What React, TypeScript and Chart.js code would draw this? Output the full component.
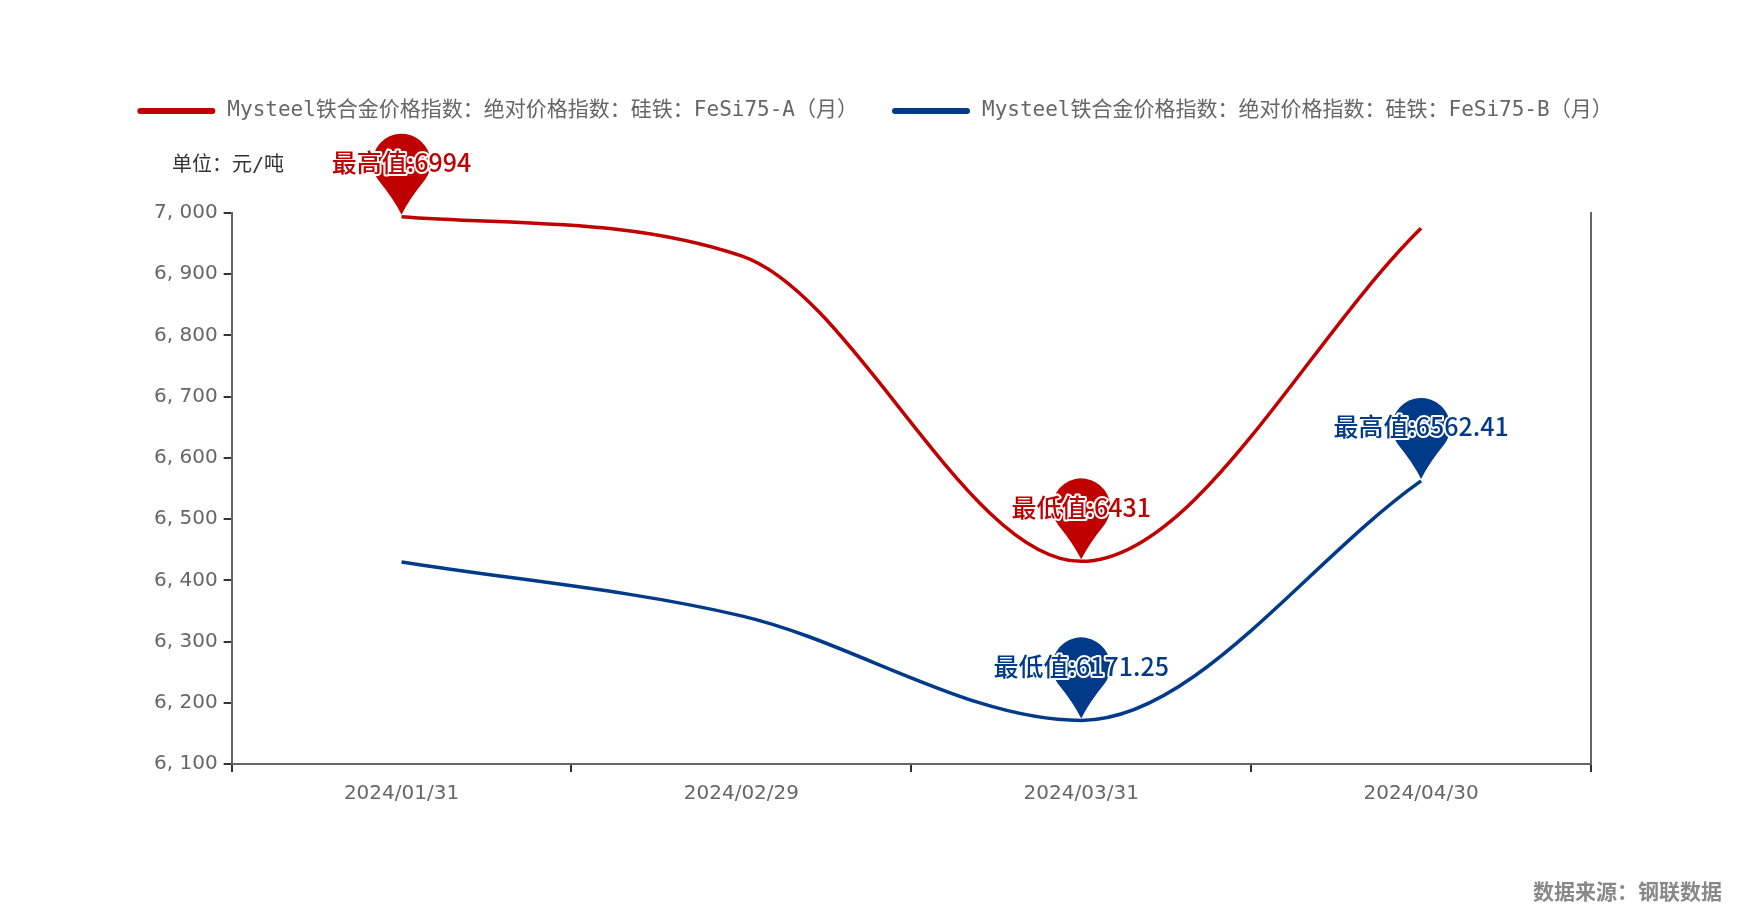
import React, { useEffect, useRef } from "react";
import { Chart, registerables } from "chart.js";
Chart.register(...registerables);

const categories = ["2024/01/31", "2024/02/29", "2024/03/31", "2024/04/30"];
const seriesA = [6994, 6930, 6431, 6975];
const seriesB = [6430, 6342, 6171.25, 6562.41];
const nameA = "Mysteel铁合金价格指数：绝对价格指数：硅铁：FeSi75-A（月）";
const nameB = "Mysteel铁合金价格指数：绝对价格指数：硅铁：FeSi75-B（月）";
const colorA = "#c00000";
const colorB = "#023a8a";
const marksA = [{ i: 0, label: "最高值:6994" }, { i: 2, label: "最低值:6431" }];
const marksB = [{ i: 2, label: "最低值:6171.25" }, { i: 3, label: "最高值:6562.41" }];

const mono = '"DejaVu Sans Mono", "Noto Sans CJK SC", monospace';

const overlay = {
  id: "overlay",
  afterDraw(chart: any) {
    const ctx = chart.ctx;
    ctx.save();
    ctx.font = `21px ${mono}`;
    ctx.textBaseline = "middle";
    const items = [[nameA, colorA], [nameB, colorB]];
    const lw = 78, gap = 12, sep = 34;
    const widths = items.map(([t]) => lw + gap + ctx.measureText(t).width);
    let x = (1750 - (widths[0] + widths[1] + sep)) / 2;
    const ly = 111;
    items.forEach(([t, c], k) => {
      ctx.strokeStyle = c; ctx.lineWidth = 6; ctx.lineCap = "round";
      ctx.beginPath(); ctx.moveTo(x + 3, ly); ctx.lineTo(x + lw - 3, ly); ctx.stroke();
      ctx.fillStyle = "#666"; ctx.textAlign = "left";
      ctx.fillText(t, x + lw + gap, ly);
      x += widths[k] + sep;
    });
    ctx.font = `20px ${mono}`; ctx.fillStyle = "#333";
    ctx.fillText("单位：元/吨", 172, 166);
    ctx.font = `bold 21px "Noto Sans CJK SC"`; ctx.fillStyle = "#888"; ctx.textAlign = "right";
    ctx.fillText("数据来源：钢联数据", 1722, 891);
    const drawPins = (dsi: number, marks: any[], color: string) => {
      const meta = chart.getDatasetMeta(dsi);
      marks.forEach((m) => {
        const p = meta.data[m.i];
        const px = p.x, py = p.y;
        const r = 29, cy = py - 54;
        ctx.fillStyle = color;
        ctx.beginPath();
        ctx.arc(px, cy, r, Math.PI * 0.8, Math.PI * 0.2, false);
        ctx.quadraticCurveTo(px + 8, cy + 36, px, py - 2);
        ctx.quadraticCurveTo(px - 8, cy + 36, px + r * Math.cos(Math.PI * 0.8), cy + r * Math.sin(Math.PI * 0.8));
        ctx.fill();
        ctx.font = `500 25px "Noto Sans CJK SC"`;
        ctx.textAlign = "center"; ctx.textBaseline = "middle";
        ctx.lineWidth = 4; ctx.strokeStyle = "#fff"; ctx.lineJoin = "round";
        ctx.strokeText(m.label, px, cy);
        ctx.fillStyle = color;
        ctx.fillText(m.label, px, cy);
      });
    };
    drawPins(0, marksA, colorA);
    drawPins(1, marksB, colorB);
    ctx.restore();
  },
};

export default function App() {
  const ref = useRef<HTMLCanvasElement>(null);
  useEffect(() => {
    const tickGrid = { display: true, drawOnChartArea: false, tickLength: 8, color: "#333", lineWidth: 2 };
    const chart = new Chart(ref.current!, {
      type: "line",
      data: {
        labels: categories,
        datasets: [
          { label: nameA, data: seriesA, borderColor: colorA, borderWidth: 3.5, pointRadius: 0, cubicInterpolationMode: "monotone", clip: false } as any,
          { label: nameB, data: seriesB, borderColor: colorB, borderWidth: 3.5, pointRadius: 0, cubicInterpolationMode: "monotone", clip: false } as any,
        ],
      },
      options: {
        animation: false,
        responsive: false,
        layout: { padding: { left: 148, right: 151, top: 213, bottom: 102 } },
        plugins: { legend: { display: false }, tooltip: { enabled: false } },
        scales: {
          x: {
            offset: true,
            grid: { ...tickGrid, offset: true },
            border: { color: "#666", width: 2 },
            ticks: { color: "#666", font: { size: 20, family: '"DejaVu Sans", sans-serif' }, padding: 10 },
          },
          y: {
            min: 6100, max: 7000,
            grid: tickGrid,
            border: { color: "#666", width: 2 },
            ticks: {
              stepSize: 100, color: "#666", padding: 6,
              font: { size: 20, family: '"DejaVu Sans", sans-serif' },
              callback: (v: any) => Number(v).toLocaleString("en-US").replace(",", ", "),
            },
          },
          y2: {
            position: "right", min: 6100, max: 7000,
            grid: { display: false }, ticks: { display: false },
            border: { color: "#666", width: 2 },
          },
        },
      },
      plugins: [overlay],
    } as any);
    return () => chart.destroy();
  }, []);
  return (
    <div style={{ position: "absolute", left: 0, top: 0, width: 1750, height: 918, background: "#fff" }}>
      <canvas ref={ref} width={1750} height={918} />
    </div>
  );
}
